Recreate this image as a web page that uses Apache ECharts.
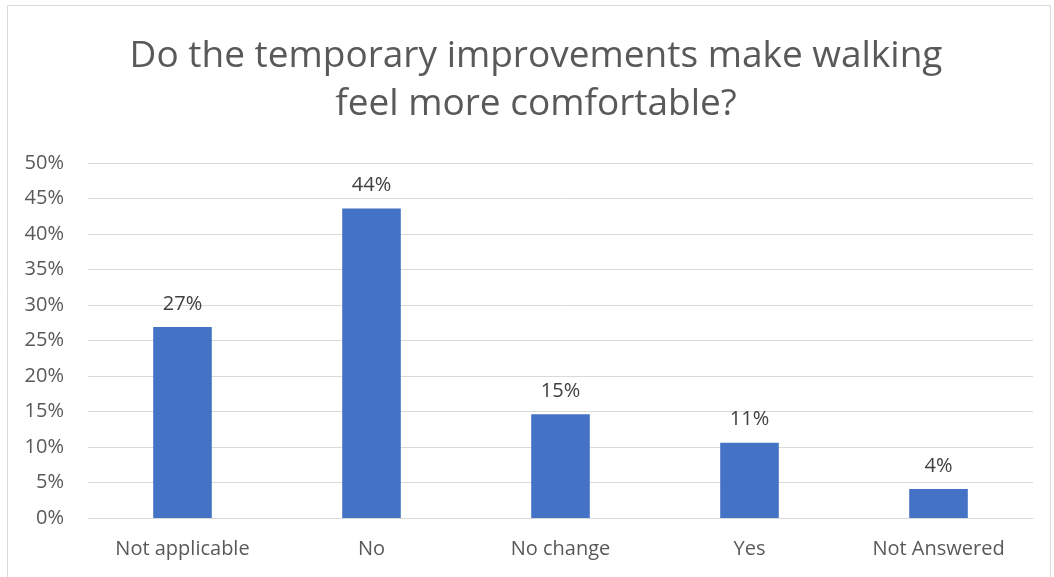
<!DOCTYPE html>
<html><head><meta charset="utf-8">
<script src="https://cdn.jsdelivr.net/npm/echarts@6/dist/echarts.min.js"></script>
<style>html,body{margin:0;padding:0;background:#fff}#c{width:1054px;height:577px}</style>
</head><body><div id="c"></div>
<script>
const title = 'Do the temporary improvements make walking\nfeel more comfortable?';
const categories = ['Not applicable', 'No', 'No change', 'Yes', 'Not Answered'];
const values = [26.9, 43.6, 14.6, 10.6, 4.1];
const labels = ['27%', '44%', '15%', '11%', '4%'];
const yTicks = [0, 5, 10, 15, 20, 25, 30, 35, 40, 45, 50];

const chart = echarts.init(document.getElementById('c'));
const font = '"Open Sans", "Liberation Sans", sans-serif';
chart.setOption({
  animation: false,
  backgroundColor: '#fff',
  graphic: [
    {type: 'rect', shape: {x: 7.5, y: 5.5, width: 1043, height: 575}, style: {fill: 'none', stroke: '#d9d9d9', lineWidth: 1}},
    {type: 'text', x: 536, y: 32, style: {text: title, textAlign: 'center', textVerticalAlign: 'top',
      fontFamily: font, fontSize: 37, fill: '#595959', lineHeight: 48}}
  ],
  grid: {left: 88, right: 21, top: 163, bottom: 59, containLabel: false},
  xAxis: {
    type: 'category', data: categories,
    axisLine: {lineStyle: {color: '#d9d9d9', width: 1}},
    axisTick: {show: false},
    axisLabel: {fontFamily: font, fontSize: 20, color: '#595959', margin: 21}
  },
  yAxis: {
    type: 'value', min: yTicks[0], max: yTicks[yTicks.length - 1], interval: 5,
    axisLine: {show: false}, axisTick: {show: false},
    splitLine: {lineStyle: {color: '#d9d9d9', width: 1}},
    axisLabel: {fontFamily: font, fontSize: 20, color: '#595959', margin: 24, formatter: v => v + '%'}
  },
  series: [{
    type: 'bar', data: values, barWidth: '31%',
    itemStyle: {color: '#4472c4'},
    label: {show: true, position: 'top', distance: 13, fontFamily: font, fontSize: 20, color: '#404040',
      formatter: p => labels[p.dataIndex]}
  }]
});
</script></body></html>
